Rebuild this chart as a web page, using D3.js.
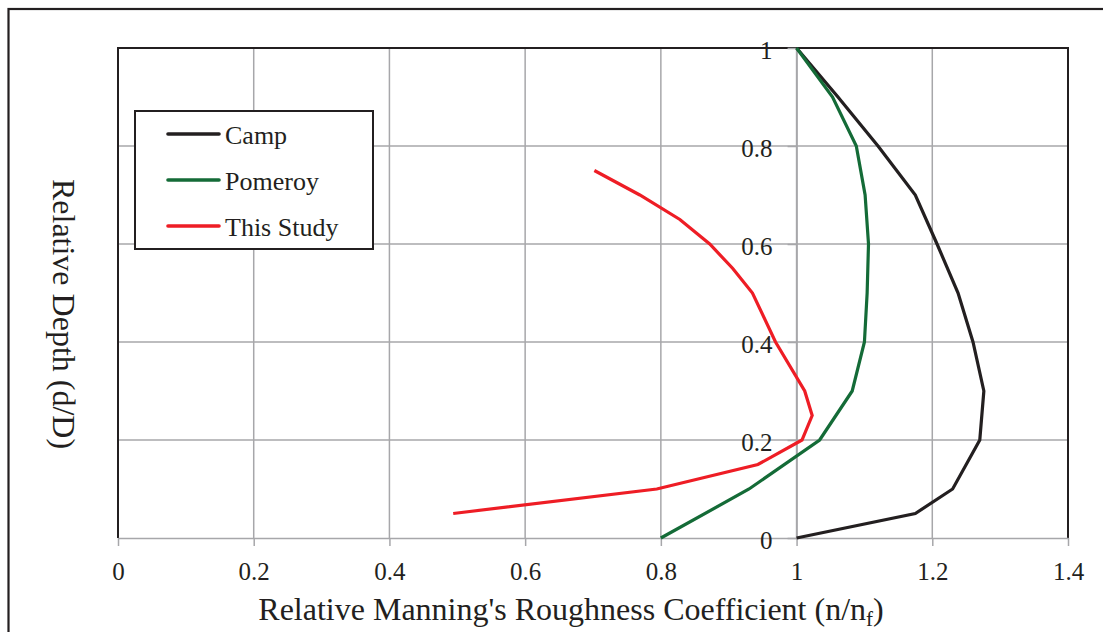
<!DOCTYPE html>
<html>
<head>
<meta charset="utf-8">
<script src="https://cdn.jsdelivr.net/npm/d3@7"></script>
<style>
  html, body { margin: 0; padding: 0; background: #fff; }
  svg { display: block; }
  text { font-family: "Liberation Serif", "Times New Roman", serif; fill: #231f20; }
</style>
</head>
<body>
<svg id="chart" width="1103" height="632"></svg>
<script>
// Relative depth (d/D) and relative roughness (n/nf) for each curve
const campDepth = [0, 0.05, 0.1, 0.2, 0.3, 0.4, 0.5, 0.6, 0.7, 0.8, 0.9, 1.0];
const campN     = [1.0, 1.175, 1.23, 1.27, 1.276, 1.26, 1.238, 1.207, 1.175, 1.12, 1.061, 1.0];

const pomeroyDepth = [0, 0.1, 0.2, 0.3, 0.4, 0.5, 0.6, 0.7, 0.8, 0.9, 1.0];
const pomeroyN     = [0.8, 0.93, 1.034, 1.082, 1.1, 1.104, 1.106, 1.101, 1.088, 1.053, 1.0];

const studyDepth = [0.05, 0.1, 0.15, 0.2, 0.25, 0.3, 0.4, 0.5, 0.55, 0.6, 0.65, 0.7, 0.75];
const studyN     = [0.494, 0.794, 0.943, 1.008, 1.023, 1.012, 0.969, 0.935, 0.906, 0.872, 0.828, 0.769, 0.702];

const xTicks = [0, 0.2, 0.4, 0.6, 0.8, 1, 1.2, 1.4];
const yTicks = [0, 0.2, 0.4, 0.6, 0.8, 1];

const seriesNames  = ["Camp", "Pomeroy", "This Study"];
const seriesColors = ["#231f20", "#146b37", "#ee1d25"];

const series = [
  { name: seriesNames[0], color: seriesColors[0], pts: campDepth.map((d, i) => [campN[i], d]) },
  { name: seriesNames[1], color: seriesColors[1], pts: pomeroyDepth.map((d, i) => [pomeroyN[i], d]) },
  { name: seriesNames[2], color: seriesColors[2], pts: studyDepth.map((d, i) => [studyN[i], d]) }
];

const svg = d3.select("#chart");
const plot = { left: 118, top: 48, right: 1068, bottom: 538 };

const x = d3.scaleLinear().domain([0, 1.4]).range([plot.left, plot.right]);
const y = d3.scaleLinear().domain([0, 1]).range([plot.bottom, plot.top]);

const gridColor = "#a7a7aa";
const darkColor = "#231f20";

// outer frame
svg.append("rect")
  .attr("x", 8.5).attr("y", 9).attr("width", 1110).attr("height", 640)
  .attr("fill", "none").attr("stroke", darkColor).attr("stroke-width", 2.2);

// grid lines
svg.append("g").selectAll("line.v")
  .data(xTicks.filter(t => t > 0 && t < 1.4))
  .join("line")
  .attr("x1", d => x(d)).attr("x2", d => x(d))
  .attr("y1", plot.top).attr("y2", plot.bottom)
  .attr("stroke", gridColor).attr("stroke-width", 1.5);

svg.append("g").selectAll("line.h")
  .data(yTicks.filter(t => t > 0 && t < 1))
  .join("line")
  .attr("x1", plot.left).attr("x2", plot.right)
  .attr("y1", d => y(d)).attr("y2", d => y(d))
  .attr("stroke", gridColor).attr("stroke-width", 1.5);

// plot border: left, top, right dark
svg.append("path")
  .attr("d", `M${plot.left},${plot.bottom} V${plot.top} H${plot.right} V${plot.bottom}`)
  .attr("fill", "none").attr("stroke", darkColor).attr("stroke-width", 2);

// x axis along the bottom
const xAxis = svg.append("g")
  .attr("transform", `translate(0,${plot.bottom})`)
  .call(d3.axisBottom(x).tickValues(xTicks).tickSize(8).tickSizeOuter(0)
        .tickFormat(d3.format("~g")));
xAxis.select(".domain").attr("stroke", gridColor).attr("stroke-width", 1.5);
xAxis.selectAll(".tick line").attr("stroke", gridColor).attr("stroke-width", 1.5);
xAxis.selectAll(".tick text")
  .attr("font-size", 25).attr("dy", 0).attr("y", 42)
  .style("font-family", "'Liberation Serif', serif").attr("fill", darkColor);

// y axis crossing at n/nf = 1
const yAxis = svg.append("g")
  .attr("transform", `translate(${x(1)},0)`)
  .call(d3.axisLeft(y).tickValues(yTicks).tickSize(9).tickSizeOuter(0)
        .tickFormat(d3.format("~g")));
yAxis.select(".domain").attr("stroke", gridColor).attr("stroke-width", 1.5);
yAxis.selectAll(".tick line").attr("stroke", gridColor).attr("stroke-width", 1.5);
yAxis.selectAll(".tick text")
  .attr("font-size", 25).attr("x", -24).attr("dy", "0.42em")
  .style("font-family", "'Liberation Serif', serif").attr("fill", darkColor);

// curves
const line = d3.line().x(d => x(d[0])).y(d => y(d[1]));
svg.append("g").selectAll("path")
  .data(series)
  .join("path")
  .attr("d", d => line(d.pts))
  .attr("fill", "none")
  .attr("stroke", d => d.color)
  .attr("stroke-width", 3.2)
  .attr("stroke-linejoin", "miter");

// legend
const legend = svg.append("g");
legend.append("rect")
  .attr("x", 135).attr("y", 111).attr("width", 238).attr("height", 138)
  .attr("fill", "#fff").attr("stroke", darkColor).attr("stroke-width", 2);
const rows = legend.selectAll("g.row")
  .data(series)
  .join("g")
  .attr("transform", (d, i) => `translate(0,${134 + i * 46})`);
rows.append("line")
  .attr("x1", 168).attr("x2", 219).attr("y1", 0).attr("y2", 0)
  .attr("stroke", d => d.color).attr("stroke-width", 3.6).attr("stroke-linecap", "round");
rows.append("text")
  .attr("x", 225).attr("y", 10)
  .attr("font-size", 26)
  .text(d => d.name);

// axis titles
const xTitle = svg.append("text")
  .attr("x", 571).attr("y", 620)
  .attr("text-anchor", "middle")
  .attr("font-size", 32);
xTitle.append("tspan").text("Relative Manning's Roughness Coefficient (n/n");
xTitle.append("tspan").attr("font-size", 21).attr("dy", 6).text("f");
xTitle.append("tspan").attr("dy", -6).text(")");

svg.append("text")
  .attr("transform", "translate(53,314) rotate(90)")
  .attr("text-anchor", "middle")
  .attr("font-size", 32)
  .text("Relative Depth (d/D)");
</script>
</body>
</html>
